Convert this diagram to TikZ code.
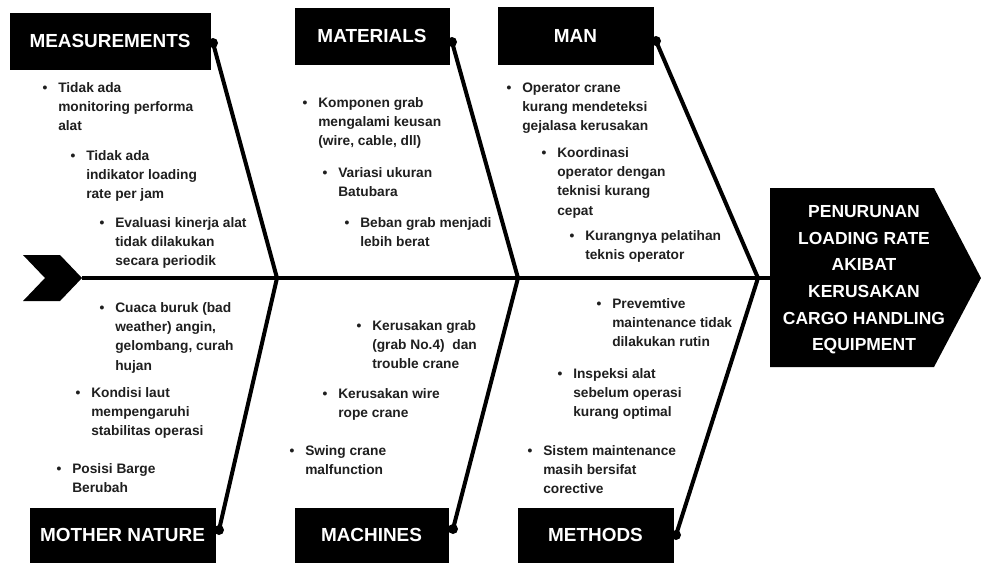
\documentclass[tikz,border=0pt]{standalone}
\usepackage{fontspec}
\setmainfont{Liberation Sans}
\definecolor{txt}{gray}{0.12}
\begin{document}
\begin{tikzpicture}[x=0.75pt,y=-0.75pt,
  box/.style={fill=black, draw=black, line width=0.4pt, inner sep=0pt, text=white,
    font=\bfseries\fontsize{14.2}{17}\selectfont},
  dot/.style={circle, fill=black, inner sep=0pt, minimum size=7.5pt},
  bone/.style={line width=3pt, draw=black},
  item/.style={anchor=base west, inner sep=0pt, text=txt,
    font=\bfseries\fontsize{10.3}{14.5}\selectfont},
  bul/.style={anchor=base, inner sep=0pt, text=txt,
    font=\bfseries\fontsize{10.3}{14.5}\selectfont},
  headtxt/.style={align=center, inner sep=0pt, text=white,
    font=\bfseries\fontsize{13.1}{20}\selectfont}]
\useasboundingbox (0,0) rectangle (981,562);
\fill[white] (0,0) rectangle (981,562);

% spine junctions
\coordinate (tailtip) at (82,278);
\coordinate (headL) at (770,278);
\coordinate (j1) at (277,278);
\coordinate (j2) at (518,278);
\coordinate (j3) at (758,278);

% tail chevron
\fill[black] (23,255) -- (60,255) -- (tailtip) -- (60,301) -- (23,301) -- (45,278) -- cycle;
% head
\fill[black] (770,188) -- (934,188) -- (981,278) -- (934,367) -- (770,367) -- cycle;
\node[headtxt] (effect) at (864,280) {PENURUNAN\\LOADING RATE\\AKIBAT\\KERUSAKAN\\CARGO HANDLING\\EQUIPMENT};

% category boxes
\node[box, minimum width=150pt, minimum height=42pt] (meas) at (110,41) {MEASUREMENTS};
\node[box, minimum width=115.5pt, minimum height=42pt] (mat) at (372,36) {MATERIALS};
\node[box, minimum width=116.25pt, minimum height=42.75pt] (man) at (575.5,35.5) {MAN};
\node[box, minimum width=138.75pt, minimum height=40.5pt] (nat) at (122.5,535) {MOTHER NATURE};
\node[box, minimum width=114.75pt, minimum height=40.5pt] (mach) at (371.5,535) {MACHINES};
\node[box, minimum width=116.25pt, minimum height=40.5pt] (meth) at (595.5,535) {METHODS};

% dots
\node[dot] (measdot) at (213,43) {};
\node[dot] (matdot) at (452,42) {};
\node[dot] (mandot) at (656,41) {};
\node[dot] (natdot) at (219,530) {};
\node[dot] (machdot) at (453,529) {};
\node[dot] (methdot) at (676,535) {};

% spine and bones
\draw[bone] (tailtip) -- (headL);
\draw[bone] (measdot.center) -- (j1);
\draw[bone] (natdot.center) -- (j1);
\draw[bone] (matdot.center) -- (j2);
\draw[bone] (machdot.center) -- (j2);
\draw[bone] (mandot.center) -- (j3);
\draw[bone] (methdot.center) -- (j3);

% MEASUREMENTS items
\node[bul] (bm1) at (45,92) {•};
\node[item] (m1) at (58,92) {\parbox[t]{200pt}{Tidak ada\\monitoring performa\\alat}};
\node[bul] (bm2) at (73,160) {•};
\node[item] (m2) at (86,160) {\parbox[t]{200pt}{Tidak ada\\indikator loading\\rate per jam}};
\node[bul] (bm3) at (102,227) {•};
\node[item] (m3) at (115,227) {\parbox[t]{200pt}{Evaluasi kinerja alat\\tidak dilakukan\\secara periodik}};

% MOTHER NATURE items
\node[bul] (bn1) at (102,312) {•};
\node[item] (n1) at (115,312) {\parbox[t]{200pt}{Cuaca buruk (bad\\weather) angin,\\gelombang, curah\\hujan}};
\node[bul] (bn2) at (78,397) {•};
\node[item] (n2) at (91,397) {\parbox[t]{200pt}{Kondisi laut\\mempengaruhi\\stabilitas operasi}};
\node[bul] (bn3) at (59,473) {•};
\node[item] (n3) at (72,473) {\parbox[t]{200pt}{Posisi Barge\\Berubah}};

% MATERIALS items
\node[bul] (bt1) at (305,107) {•};
\node[item] (t1) at (318,107) {\parbox[t]{200pt}{Komponen grab\\mengalami keusan\\(wire, cable, dll)}};
\node[bul] (bt2) at (325,177) {•};
\node[item] (t2) at (338,177) {\parbox[t]{200pt}{Variasi ukuran\\Batubara}};
\node[bul] (bt3) at (347,227) {•};
\node[item] (t3) at (360,227) {\parbox[t]{200pt}{Beban grab menjadi\\lebih berat}};

% MAN items
\node[bul] (ba1) at (509,92) {•};
\node[item] (a1) at (522,92) {\parbox[t]{200pt}{Operator crane\\kurang mendeteksi\\gejalasa kerusakan}};
\node[bul] (ba2) at (544,157) {•};
\node[item] (a2) at (557,157) {\parbox[t]{200pt}{Koordinasi\\operator dengan\\teknisi kurang\\cepat}};
\node[bul] (ba3) at (572,240) {•};
\node[item] (a3) at (585,240) {\parbox[t]{200pt}{Kurangnya pelatihan\\teknis operator}};

% MACHINES items
\node[bul] (bc1) at (359,330) {•};
\node[item] (c1) at (372,330) {\parbox[t]{200pt}{Kerusakan grab\\(grab No.4)\ \ dan\\trouble crane}};
\node[bul] (bc2) at (325,398) {•};
\node[item] (c2) at (338,398) {\parbox[t]{200pt}{Kerusakan wire\\rope crane}};
\node[bul] (bc3) at (292,455) {•};
\node[item] (c3) at (305,455) {\parbox[t]{200pt}{Swing crane\\malfunction}};

% METHODS items
\node[bul] (be1) at (599,308) {•};
\node[item] (e1) at (612,308) {\parbox[t]{200pt}{Prevemtive\\maintenance tidak\\dilakukan rutin}};
\node[bul] (be2) at (560,378) {•};
\node[item] (e2) at (573,378) {\parbox[t]{200pt}{Inspeksi alat\\sebelum operasi\\kurang optimal}};
\node[bul] (be3) at (530,455) {•};
\node[item] (e3) at (543,455) {\parbox[t]{200pt}{Sistem maintenance\\masih bersifat\\corective}};
\end{tikzpicture}
\end{document}
